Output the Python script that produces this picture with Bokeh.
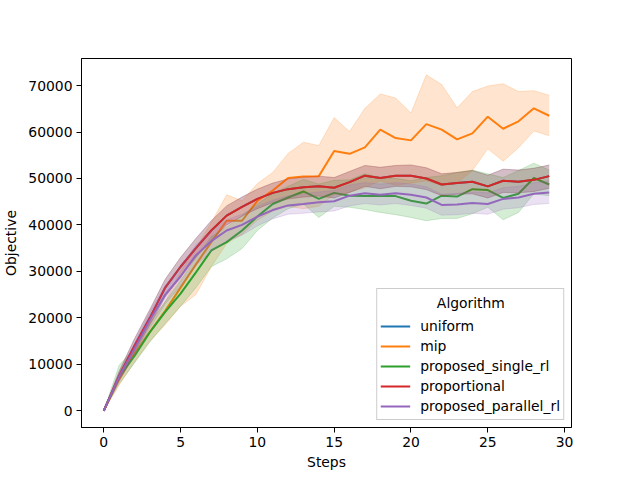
from bokeh.plotting import figure
from bokeh.models import Range1d, Legend, LegendItem, FixedTicker, BasicTickFormatter, Label
from bokeh.embed import file_html
from bokeh.resources import INLINE

steps = list(range(30))

proportional_mean = [0, 7500, 14000, 20000, 26500, 31000, 35000, 38800, 42000, 43900, 45600, 46900, 47700, 48100, 48300, 48000, 49200, 50600, 50100, 50600, 50600, 50000, 48700, 49000, 49300, 48300, 49500, 49300, 49700, 50500]
proportional_lo = [0, 6500, 12500, 18500, 24500, 29000, 33000, 36800, 40000, 41900, 43500, 44800, 45600, 46000, 46200, 45800, 47000, 48300, 47800, 48300, 48200, 47600, 46300, 46600, 46700, 45800, 47000, 46900, 47200, 47900]
proportional_hi = [0, 8500, 15500, 21800, 28300, 33000, 37100, 40900, 44100, 46000, 47700, 49000, 49900, 50300, 50500, 50200, 51500, 52800, 52400, 52800, 52900, 52300, 51000, 51300, 51700, 50700, 52000, 51800, 52200, 52900]

# uniform coincides with proportional (hidden beneath it)
uniform_mean = [0, 7500, 14000, 20000, 26500, 31000, 35000, 38800, 42000, 43900, 45600, 46900, 47700, 48100, 48300, 48000, 49200, 50600, 50100, 50600, 50600, 50000, 48700, 49000, 49300, 48300, 49500, 49300, 49700, 50500]
uniform_lo = [0, 6500, 12500, 18500, 24500, 29000, 33000, 36800, 40000, 41900, 43500, 44800, 45600, 46000, 46200, 45800, 47000, 48300, 47800, 48300, 48200, 47600, 46300, 46600, 46700, 45800, 47000, 46900, 47200, 47900]
uniform_hi = [0, 8500, 15500, 21800, 28300, 33000, 37100, 40900, 44100, 46000, 47700, 49000, 49900, 50300, 50500, 50200, 51500, 52800, 52400, 52800, 52900, 52300, 51000, 51300, 51700, 50700, 52000, 51800, 52200, 52900]

mip_mean = [0, 6800, 12300, 17000, 21500, 26500, 31500, 36300, 40900, 40900, 45200, 47400, 50100, 50400, 50500, 55900, 55300, 56700, 60500, 58700, 58200, 61700, 60500, 58400, 59700, 63300, 60700, 62300, 65100, 63500]
mip_lo = [0, 5500, 10500, 15000, 18500, 22500, 25000, 31000, 36000, 38000, 41000, 43000, 44000, 43500, 44000, 46500, 47000, 48000, 49500, 48500, 49000, 49500, 48500, 49000, 51700, 56400, 53700, 56600, 60200, 59200]
mip_hi = [0, 8000, 14000, 19000, 23500, 30000, 35000, 40500, 46500, 45200, 48900, 51300, 55400, 57800, 57100, 63100, 60100, 65100, 68200, 67300, 64100, 72300, 70200, 65200, 68700, 69900, 70400, 68700, 68900, 67900]

single_mean = [0, 7300, 11800, 16900, 21300, 25200, 29800, 34500, 36300, 38800, 41800, 44500, 45900, 47200, 45600, 46900, 46300, 46200, 46300, 46200, 45200, 44600, 46300, 46100, 47700, 47500, 45800, 46700, 50100, 48700]
single_lo = [0, 5800, 10300, 14800, 18800, 22500, 26500, 31000, 32700, 34900, 38800, 41500, 43500, 44500, 41600, 44000, 43800, 43300, 42700, 42200, 41600, 40900, 41400, 41400, 42400, 43800, 41100, 42700, 46700, 46300]
single_hi = [0, 9800, 13500, 18800, 23500, 28000, 33000, 37500, 39500, 42000, 44500, 46800, 48300, 49800, 48800, 49600, 49700, 51000, 50200, 50000, 49500, 50200, 50600, 51300, 51800, 51000, 50200, 51700, 53300, 51800]

parallel_mean = [0, 7300, 13300, 19500, 25000, 28900, 33500, 36500, 38800, 40000, 41800, 43200, 44200, 44500, 44900, 45100, 46300, 46800, 46500, 46800, 46500, 45900, 44300, 44400, 44700, 44500, 45600, 45900, 46700, 47000]
parallel_lo = [0, 6300, 12000, 17800, 23000, 26800, 31300, 34300, 36500, 37800, 39800, 41300, 42300, 42500, 42800, 43000, 44100, 44600, 44300, 44600, 44200, 43600, 42100, 42200, 42500, 42300, 43400, 43700, 44400, 44600]
parallel_hi = [0, 8300, 14600, 21200, 27000, 31000, 35700, 38700, 41100, 42300, 44000, 45300, 46300, 46700, 47100, 47400, 48600, 49100, 48800, 49100, 48800, 48200, 46600, 46800, 47100, 46900, 48000, 48300, 49100, 49500]

algorithms = ["uniform", "mip", "proposed_single_rl", "proportional", "proposed_parallel_rl"]
colors = ["#1f77b4", "#ff7f0e", "#2ca02c", "#d62728", "#9467bd"]
series = [
    (uniform_mean, uniform_lo, uniform_hi),
    (mip_mean, mip_lo, mip_hi),
    (single_mean, single_lo, single_hi),
    (proportional_mean, proportional_lo, proportional_hi),
    (parallel_mean, parallel_lo, parallel_hi),
]
x_ticks = [0, 5, 10, 15, 20, 25, 30]
y_ticks = [0, 10000, 20000, 30000, 40000, 50000, 60000, 70000]
legend_title = "Algorithm"

FONT = "DejaVu Sans"
FS = "13.9px"

p = figure(width=624, height=472, output_backend="svg", toolbar_location=None,
           x_range=Range1d(-1.45, 30.45), y_range=Range1d(-3600, 75820),
           min_border_left=75, min_border_right=53, min_border_top=58, min_border_bottom=45)
p.xgrid.visible = False
p.ygrid.visible = False
p.outline_line_color = "black"
p.outline_line_width = 1
p.background_fill_color = "white"
p.border_fill_color = "white"

items = []
for name, col, (m, lo, hi) in zip(algorithms, colors, series):
    r = p.line(steps, m, line_color=col, line_width=2)
    p.varea(x=steps, y1=lo, y2=hi, fill_color=col, fill_alpha=0.2)
    p.line(steps, lo, line_color=col, line_alpha=0.2, line_width=1)
    p.line(steps, hi, line_color=col, line_alpha=0.2, line_width=1)
    items.append(LegendItem(label=name, renderers=[r]))

for ax in (p.xaxis[0], p.yaxis[0]):
    ax.axis_line_color = "black"
    ax.major_tick_line_color = "black"
    ax.major_tick_out = 5
    ax.major_tick_in = 0
    ax.minor_tick_line_color = None
    ax.major_label_text_font = FONT
    ax.major_label_text_font_size = FS
    ax.major_label_text_color = "black"
    ax.axis_label_text_font = FONT
    ax.axis_label_text_font_size = FS
    ax.axis_label_text_font_style = "normal"
    ax.axis_label_text_color = "black"

p.xaxis.ticker = FixedTicker(ticks=x_ticks)
p.yaxis.ticker = FixedTicker(ticks=y_ticks)
p.yaxis.formatter = BasicTickFormatter(use_scientific=False)
p.xaxis.axis_label = "Steps"
p.yaxis.axis_label = "Objective"
p.xaxis.major_label_standoff = 4
p.yaxis.major_label_standoff = 4
p.xaxis.axis_label_standoff = 4
p.yaxis.axis_label_standoff = 6

legend = Legend(items=items, location="bottom_right", title=" ")
legend.title_text_font = FONT
legend.title_text_font_size = FS
legend.title_text_font_style = "normal"
legend.label_text_font = FONT
legend.label_text_font_size = FS
legend.label_text_color = "black"
legend.border_line_color = "#cccccc"
legend.border_line_alpha = 1
legend.background_fill_alpha = 0
legend.margin = 7
legend.padding = 3
legend.spacing = 0
legend.label_height = 20
legend.glyph_height = 20
legend.glyph_width = 30
legend.label_standoff = 10
legend.title_standoff = 8
p.add_layout(legend)

# centred legend title, as in the reference
title_label = Label(x=23.9, y=23300, text=legend_title, text_align="center",
                    text_baseline="middle", text_font=FONT, text_font_size=FS,
                    text_color="black", level="overlay")
p.add_layout(title_label)

open("out.html", "w").write(file_html(p, INLINE))
